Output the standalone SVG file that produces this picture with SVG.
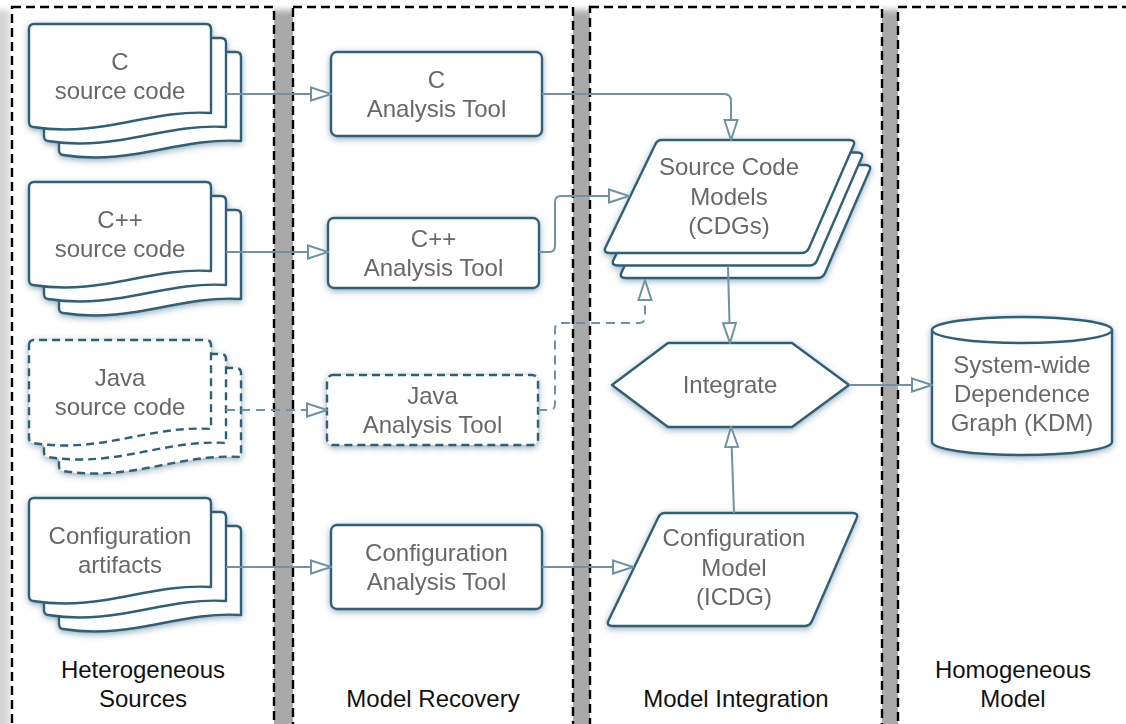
<svg xmlns="http://www.w3.org/2000/svg" width="1126" height="724" viewBox="0 0 1126 724">
  <defs>
    <style>
      .lane { fill: #ffffff; stroke: #000000; stroke-width: 2.4; stroke-dasharray: 9 5; }
      .node { fill: #ffffff; stroke: #2f6079; stroke-width: 2.4; stroke-linejoin: round; }
      .dashed { stroke-dasharray: 8 5; }
      .ntext { font-family: "Liberation Sans", Arial, Helvetica, sans-serif; font-size: 24px; fill: #686868; text-anchor: middle; }
      .ltext { font-family: "Liberation Sans", Arial, Helvetica, sans-serif; font-size: 24px; fill: #111111; text-anchor: middle; }
      .edge { fill: none; stroke: #6f93a5; stroke-width: 2; }
      .edge-dash { stroke-dasharray: 9 6; }
    </style>
    <filter id="nodeShadow" x="-20%" y="-20%" width="140%" height="140%">
      <feDropShadow dx="0" dy="2" stdDeviation="3" flood-color="#234a66" flood-opacity="0.45"/>
    </filter>
    <filter id="soft" x="-50%" y="-5%" width="200%" height="110%">
      <feGaussianBlur stdDeviation="3"/>
    </filter>
    <marker id="hollow" viewBox="0 0 22 16" refX="21" refY="8" markerWidth="22" markerHeight="16" orient="auto" markerUnits="userSpaceOnUse">
      <path d="M1,1.5 L21,8 L1,14.5 Z" fill="#ffffff" stroke="#6f93a5" stroke-width="2" stroke-linejoin="miter"/>
    </marker>
    <!-- wavy-bottom page, origin at its top-left corner -->
    <path id="page" d="M0,5 Q0,0 5,0 H177 Q182,0 182,5 V89 C120,85 72,114 4,103 Q0,102.5 0,98 Z"/>
    <!-- slanted data shape, origin at its top-left corner -->
    <path id="para" d="M59,0 H246 Q253,0 250.5,5.5 L206,108 Q204,113 198,113 H7 Q0,113 2.5,107.5 L52,5 Q54,0 59,0 Z"/>
  </defs>

  <!-- lane shadows -->
  <g id="lane-shadows" fill="#a9a9a9" filter="url(#soft)">
    <rect x="-24" y="10" width="34" height="760" fill="#d4d4d4"/>
    <rect x="268" y="10" width="30" height="760"/>
    <rect x="567" y="10" width="28" height="760"/>
    <rect x="876" y="10" width="28" height="760"/>
  </g>

  <!-- swimlanes -->
  <g id="lanes">
    <rect id="lane-sources" class="lane" x="12" y="7" width="262" height="740"/>
    <rect id="lane-recovery" class="lane" x="293" y="7" width="280" height="740"/>
    <rect id="lane-integration" class="lane" x="590" y="7" width="292" height="740"/>
    <rect id="lane-homogeneous" class="lane" x="898" y="7" width="240" height="740"/>
    <text class="ltext" x="143" y="678">Heterogeneous</text>
    <text class="ltext" x="143" y="707">Sources</text>
    <text class="ltext" x="433" y="707">Model Recovery</text>
    <text class="ltext" x="736" y="707">Model Integration</text>
    <text class="ltext" x="1013" y="678">Homogeneous</text>
    <text class="ltext" x="1013" y="707">Model</text>
  </g>

  <!-- source document stacks -->
  <g id="c-source" filter="url(#nodeShadow)">
    <use href="#page" class="node" x="59" y="52"/>
    <use href="#page" class="node" x="44" y="38"/>
    <use href="#page" class="node" x="29" y="24"/>
    <text class="ntext" x="120" y="70">C</text>
    <text class="ntext" x="120" y="99">source code</text>
  </g>
  <g id="cpp-source" filter="url(#nodeShadow)">
    <use href="#page" class="node" x="59" y="210"/>
    <use href="#page" class="node" x="44" y="196"/>
    <use href="#page" class="node" x="29" y="182"/>
    <text class="ntext" x="120" y="228">C++</text>
    <text class="ntext" x="120" y="257">source code</text>
  </g>
  <g id="java-source" filter="url(#nodeShadow)">
    <use href="#page" class="node dashed" x="59" y="368"/>
    <use href="#page" class="node dashed" x="44" y="354"/>
    <use href="#page" class="node dashed" x="29" y="340"/>
    <text class="ntext" x="120" y="386">Java</text>
    <text class="ntext" x="120" y="415">source code</text>
  </g>
  <g id="config-source" filter="url(#nodeShadow)">
    <use href="#page" class="node" x="59" y="526"/>
    <use href="#page" class="node" x="44" y="512"/>
    <use href="#page" class="node" x="29" y="498"/>
    <text class="ntext" x="120" y="544">Configuration</text>
    <text class="ntext" x="120" y="573">artifacts</text>
  </g>

  <!-- analysis tools -->
  <g id="c-tool" filter="url(#nodeShadow)">
    <rect class="node" x="331" y="52" width="211" height="84" rx="6"/>
    <text class="ntext" x="436.5" y="88">C</text>
    <text class="ntext" x="436.5" y="117">Analysis Tool</text>
  </g>
  <g id="cpp-tool" filter="url(#nodeShadow)">
    <rect class="node" x="328" y="218" width="211" height="70" rx="6"/>
    <text class="ntext" x="433.5" y="247">C++</text>
    <text class="ntext" x="433.5" y="276">Analysis Tool</text>
  </g>
  <g id="java-tool" filter="url(#nodeShadow)">
    <rect class="node dashed" x="327" y="375" width="211" height="70" rx="6"/>
    <text class="ntext" x="432.5" y="404">Java</text>
    <text class="ntext" x="432.5" y="433">Analysis Tool</text>
  </g>
  <g id="config-tool" filter="url(#nodeShadow)">
    <rect class="node" x="331" y="525" width="211" height="84" rx="6"/>
    <text class="ntext" x="436.5" y="561">Configuration</text>
    <text class="ntext" x="436.5" y="590">Analysis Tool</text>
  </g>

  <!-- recovered models -->
  <g id="source-models" filter="url(#nodeShadow)">
    <use href="#para" class="node" x="619" y="165"/>
    <use href="#para" class="node" x="611" y="152.5"/>
    <use href="#para" class="node" x="603" y="140"/>
    <text class="ntext" x="729" y="175">Source Code</text>
    <text class="ntext" x="729" y="205">Models</text>
    <text class="ntext" x="729" y="234">(CDGs)</text>
  </g>
  <g id="config-model" filter="url(#nodeShadow)">
    <use href="#para" class="node" x="606" y="513"/>
    <text class="ntext" x="734" y="546">Configuration</text>
    <text class="ntext" x="734" y="576">Model</text>
    <text class="ntext" x="734" y="605">(ICDG)</text>
  </g>
  <g id="integrate" filter="url(#nodeShadow)">
    <path class="node" d="M668,343 H792 L849,385 L792,427 H668 L612,385 Z"/>
    <text class="ntext" x="730" y="393">Integrate</text>
  </g>

  <!-- integrated result -->
  <g id="kdm" filter="url(#nodeShadow)">
    <path class="node" d="M932,330 A90,13 0 0,1 1112,330 V442 A90,13 0 0,1 932,442 Z"/>
    <path class="node" fill="none" d="M932,330 A90,13 0 0,0 1112,330"/>
    <text class="ntext" x="1022" y="373">System-wide</text>
    <text class="ntext" x="1022" y="402">Dependence</text>
    <text class="ntext" x="1022" y="431">Graph (KDM)</text>
  </g>

  <!-- connectors -->
  <g id="connectors">
    <path class="edge" marker-end="url(#hollow)" d="M226,94 H331"/>
    <path class="edge" marker-end="url(#hollow)" d="M542,94 H724 Q731,94 731,101 V140"/>
    <path class="edge" marker-end="url(#hollow)" d="M226,252 H328"/>
    <path class="edge" marker-end="url(#hollow)" d="M539,252 H549 Q555,252 555,246 V202 Q555,196 561,196 H629"/>
    <path class="edge edge-dash" marker-end="url(#hollow)" d="M226,410 H327"/>
    <path class="edge edge-dash" marker-end="url(#hollow)" d="M538,410 H549 Q555,410 555,404 V329 Q555,323 561,323 H639 Q645,323 645,317 V280"/>
    <path class="edge" marker-end="url(#hollow)" d="M226,567 H331"/>
    <path class="edge" marker-end="url(#hollow)" d="M542,567 H633"/>
    <path class="edge" marker-end="url(#hollow)" d="M728,266 L730,343"/>
    <path class="edge" marker-end="url(#hollow)" d="M734,513 L731,427"/>
    <path class="edge" marker-end="url(#hollow)" d="M849,385 H932"/>
  </g>
</svg>
